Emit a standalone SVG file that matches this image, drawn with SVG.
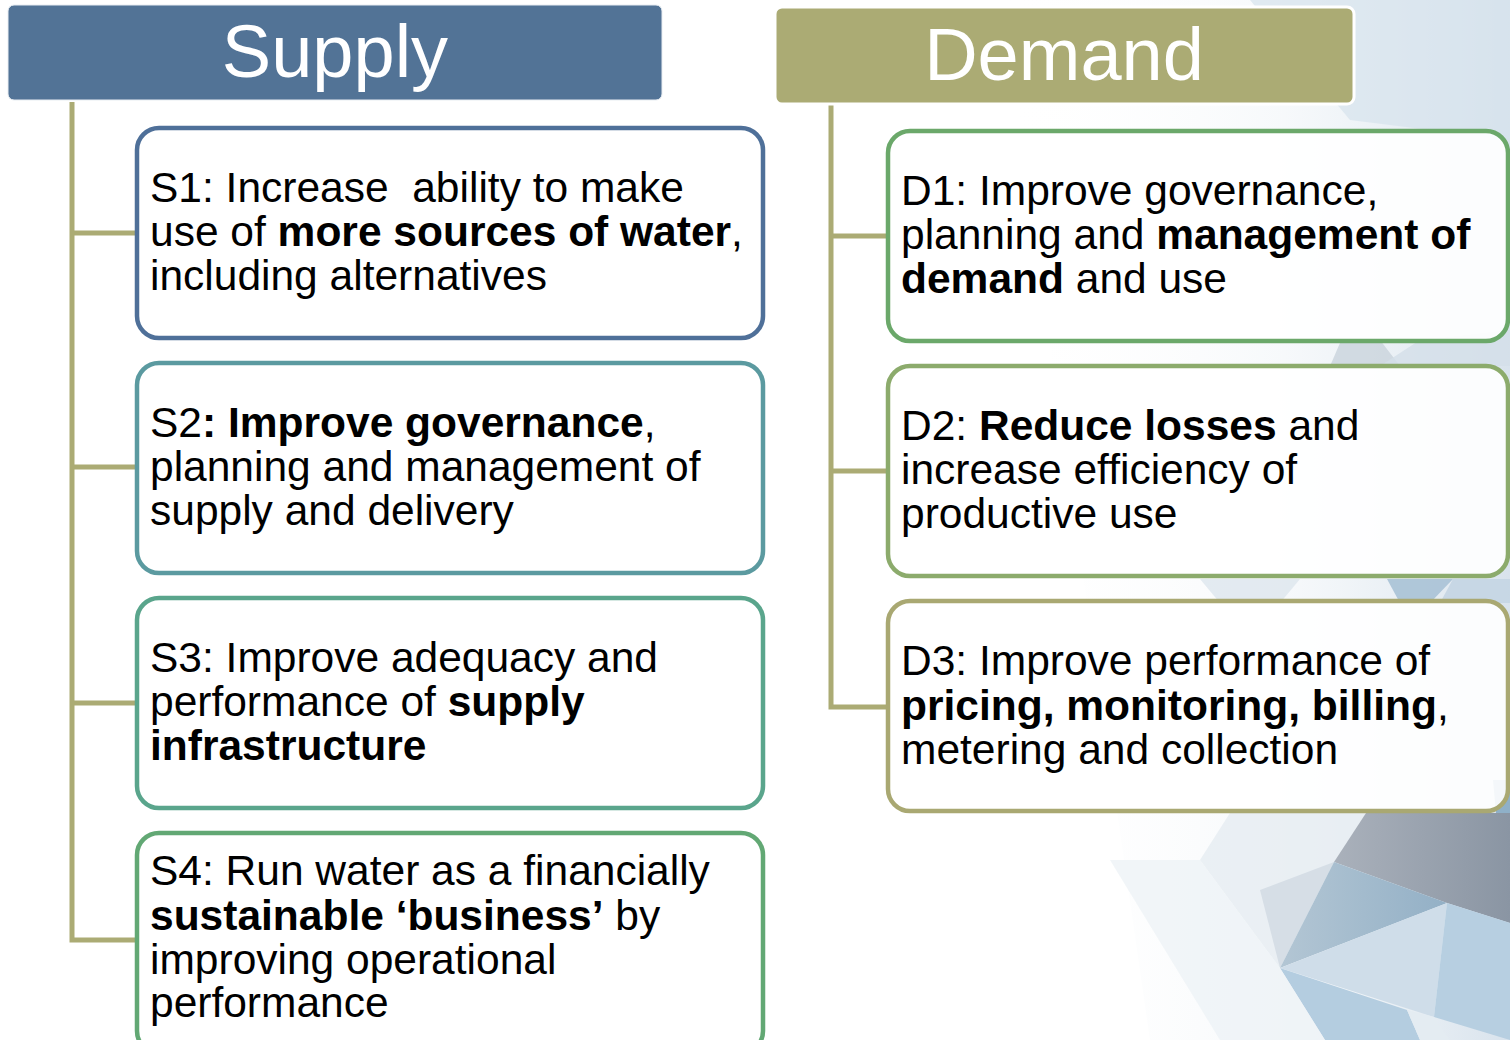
<svg xmlns="http://www.w3.org/2000/svg" width="1510" height="1040" viewBox="0 0 1510 1040">
<defs>
<linearGradient id="bgGrad" x1="0" y1="0" x2="1" y2="0">
<stop offset="0" stop-color="#ffffff" stop-opacity="0"/>
<stop offset="0.55" stop-color="#eef3f7" stop-opacity="0.6"/>
<stop offset="1" stop-color="#cfdce8" stop-opacity="1"/>
</linearGradient>
<linearGradient id="grayGrad" x1="0" y1="0" x2="1" y2="0">
<stop offset="0" stop-color="#aab1bb"/>
<stop offset="1" stop-color="#8a95a3"/>
</linearGradient>
<linearGradient id="blueGrad" x1="0" y1="0" x2="1" y2="0">
<stop offset="0" stop-color="#b3c6d4"/>
<stop offset="1" stop-color="#93b0c6"/>
</linearGradient>
<style>
.hdr{font-family:"Liberation Sans",Arial,sans-serif;font-size:74px;fill:#ffffff;text-anchor:middle}
.t{font-family:"Liberation Sans",Arial,sans-serif;font-size:42.5px;fill:#000000}
.b{font-weight:bold}
.box{fill:#ffffff;fill-opacity:0.9;stroke-width:4.5}
.conn{fill:none;stroke:#abab74;stroke-width:5}
</style>
</defs>

<g id="background">
<rect x="0" y="0" width="1510" height="1040" fill="#ffffff"/>
<polygon points="1000,0 1510,0 1510,1040 1150,1040" fill="url(#bgGrad)" opacity="0.8"/>
<polygon points="1250,0 1510,0 1510,140 1350,120" fill="#d6e2ec" opacity="0.7"/>
<polygon points="1340,343 1380,340 1400,366 1330,366" fill="#c9d3dc" opacity="0.8"/>
<polygon points="1380,366 1420,340 1510,330 1510,366" fill="#d3dfe9" opacity="0.8"/>
<polygon points="1387,579 1453,579 1430,603 1400,603" fill="#a9c2d6" opacity="0.9"/>
<polygon points="1453,579 1510,579 1510,603 1440,603" fill="#c4d5e3" opacity="0.9"/>
<polygon points="1200,579 1300,579 1280,603 1220,603" fill="#dde6ee" opacity="0.8"/>
<polygon points="1230,813 1366,813 1334,862 1280,968 1200,860" fill="#e6ecf1" opacity="0.8"/>
<polygon points="1260,890 1334,862 1280,968" fill="#d6dee6"/>
<polygon points="1366,813 1510,813 1510,923 1447,903 1334,862" fill="url(#grayGrad)"/>
<polygon points="1334,862 1447,903 1280,968" fill="url(#blueGrad)"/>
<polygon points="1280,968 1447,903 1434,1017" fill="#cfdde9"/>
<polygon points="1447,903 1510,923 1510,1040 1434,1017" fill="#b7cfe1"/>
<polygon points="1280,968 1407,1010 1420,1040 1325,1040" fill="#b4cde0"/>
<polygon points="1407,1010 1434,1017 1450,1040 1420,1040" fill="#e4ecf2"/>
<polygon points="1493,780 1510,780 1510,813 1496,813" fill="#8fb0c8"/>
<polygon points="1110,860 1200,860 1280,968 1325,1040 1220,1040" fill="#eef2f6" opacity="0.8"/>
</g>

<g id="connectors">
<path class="conn" d="M72,102 V940 H137"/>
<path class="conn" d="M72,233 H137"/>
<path class="conn" d="M72,467 H137"/>
<path class="conn" d="M72,703 H137"/>
<path class="conn" d="M831,105 V707 H888"/>
<path class="conn" d="M831,236 H888"/>
<path class="conn" d="M831,471 H888"/>
</g>

<g id="supply-header">
<rect x="8" y="5" width="654" height="95" rx="6" fill="#527396" stroke="#e8edf2" stroke-width="1"/>
<text class="hdr" x="335" y="77">Supply</text>
</g>

<g id="demand-header">
<rect x="775" y="7" width="579" height="97" rx="7" fill="#abab74" stroke="#ffffff" stroke-width="3"/>
<text class="hdr" x="1064" y="80">Demand</text>
</g>

<g id="S1">
<rect class="box" x="137" y="128" width="626" height="210" rx="22" stroke="#4f7099"/>
<text class="t" x="150" y="202" xml:space="preserve">S1: Increase  ability to make</text>
<text class="t" x="150" y="246">use of <tspan class="b">more sources of water</tspan>,</text>
<text class="t" x="150" y="290">including alternatives</text>
</g>

<g id="S2">
<rect class="box" x="137" y="363" width="626" height="210" rx="22" stroke="#5b9aa0"/>
<text class="t" x="150" y="437">S2<tspan class="b">: Improve governance</tspan>,</text>
<text class="t" x="150" y="481">planning and management of</text>
<text class="t" x="150" y="525">supply and delivery</text>
</g>

<g id="S3">
<rect class="box" x="137" y="598" width="626" height="210" rx="22" stroke="#5aa58c"/>
<text class="t" x="150" y="672">S3: Improve adequacy and</text>
<text class="t" x="150" y="716">performance of <tspan class="b">supply</tspan></text>
<text class="t" x="150" y="760"><tspan class="b">infrastructure</tspan></text>
</g>

<g id="S4">
<rect class="box" x="137" y="833" width="626" height="220" rx="22" stroke="#62a874"/>
<text class="t" x="150" y="885">S4: Run water as a financially</text>
<text class="t" x="150" y="930"><tspan class="b">sustainable ‘business’</tspan> by</text>
<text class="t" x="150" y="974">improving operational</text>
<text class="t" x="150" y="1017">performance</text>
</g>

<g id="D1">
<rect class="box" x="888" y="131" width="620" height="210" rx="22" stroke="#6ba86a"/>
<text class="t" x="901" y="205">D1: Improve governance,</text>
<text class="t" x="901" y="249">planning and <tspan class="b">management of</tspan></text>
<text class="t" x="901" y="293"><tspan class="b">demand</tspan> and use</text>
</g>

<g id="D2">
<rect class="box" x="888" y="366" width="620" height="210" rx="22" stroke="#8cab6c"/>
<text class="t" x="901" y="440">D2: <tspan class="b">Reduce losses</tspan> and</text>
<text class="t" x="901" y="484">increase efficiency of</text>
<text class="t" x="901" y="528">productive use</text>
</g>

<g id="D3">
<rect class="box" x="888" y="601" width="620" height="210" rx="22" stroke="#a9a872"/>
<text class="t" x="901" y="675">D3: Improve performance of</text>
<text class="t" x="901" y="720"><tspan class="b">pricing, monitoring, billing</tspan>,</text>
<text class="t" x="901" y="764">metering and collection</text>
</g>
</svg>
